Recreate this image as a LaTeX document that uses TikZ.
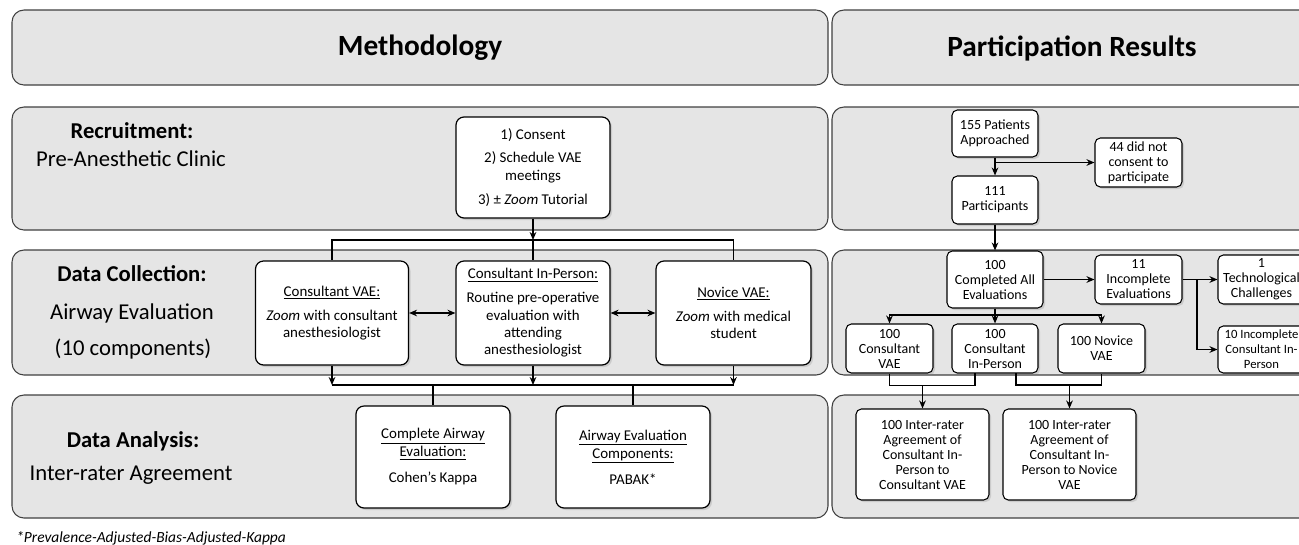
\documentclass[tikz,border=0pt]{standalone}
\usepackage{fontspec}
\setmainfont{Carlito}
\usetikzlibrary{arrows.meta,shadows,fit}
\begin{document}
\begin{tikzpicture}[x=0.75pt,y=-0.75pt,
  panel/.style={draw=black!75, fill=black!10, rounded corners=9pt, line width=0.8pt, inner sep=0pt},
  lbox/.style={draw=black, fill=white, rounded corners=6pt, line width=0.9pt, align=center, inner sep=2pt,
    drop shadow={shadow xshift=1.5pt, shadow yshift=-1.5pt, opacity=0.25},
    font=\fontsize{11.2}{13}\selectfont},
  rbox/.style={draw=black, fill=white, rounded corners=4pt, line width=0.8pt, align=center, inner sep=1pt,
    drop shadow={shadow xshift=1.5pt, shadow yshift=-1.5pt, opacity=0.25},
    font=\fontsize{10.5}{11.25}\selectfont},
  head/.style={font=\fontsize{22}{26}\selectfont\bfseries},
  lab/.style={font=\fontsize{17}{20}\selectfont\bfseries},
  sub/.style={font=\fontsize{17}{20}\selectfont},
  con/.style={line width=0.9pt, draw=black},
  arr/.style={con, -{Stealth[length=6pt,width=5pt]}},
  darr/.style={con, {Stealth[length=6pt,width=5pt]}-{Stealth[length=6pt,width=5pt]}}
]
\clip (0,0) rectangle (1299,544);

% ---------- panels ----------
\node[panel, fit={(12,10)(828,85)}] (hL) {};
\node[panel, fit={(832,10)(1312,85)}] (hR) {};
\node[panel, fit={(12,107)(828,230)}] (r1L) {};
\node[panel, fit={(832,107)(1312,230)}] (r1R) {};
\node[panel, fit={(12,250)(828,375)}] (r2L) {};
\node[panel, fit={(832,250)(1312,375)}] (r2R) {};
\node[panel, fit={(12,395)(828,518)}] (r3L) {};
\node[panel, fit={(832,395)(1312,518)}] (r3R) {};

\node[head] (tM) at (420,48) {Methodology};
\node[head] (tP) at (1072,48) {Participation Results};

% ---------- left labels ----------
\node[lab] (lRec) at (132,131) {Recruitment:};
\node[sub] (lPre) at (131,159) {Pre-Anesthetic Clinic};
\node[lab] (lDC) at (132,274) {Data Collection:};
\node[sub] (lAE) at (132,313) {Airway Evaluation};
\node[sub] (lTen) at (133,349) {(10 components)};
\node[lab] (lDA) at (133,441) {Data Analysis:};
\node[sub] (lIRA) at (131,475) {Inter-rater Agreement};

% ---------- left boxes ----------
\node[lbox, minimum width=154*0.75pt, minimum height=101*0.75pt, font=\fontsize{11.2}{13.5}\selectfont] (cons) at (533,167.5)
  {1) Consent\\[4pt]2) Schedule VAE\\meetings\\[4pt]3) ± \textit{Zoom} Tutorial};
\node[lbox, minimum width=153*0.75pt, minimum height=104*0.75pt] (cvae) at (332,313)
  {\underline{Consultant VAE:}\\[5pt]\textit{Zoom} with consultant\\anesthesiologist};
\node[lbox, minimum width=154*0.75pt, minimum height=104*0.75pt] (cip) at (533,313)
  {\underline{Consultant In-Person:}\\[5pt]Routine pre-operative\\evaluation with\\attending\\anesthesiologist};
\node[lbox, minimum width=155*0.75pt, minimum height=104*0.75pt] (nvae) at (733.5,313)
  {\underline{Novice VAE:}\\[5pt]\textit{Zoom} with medical\\student};
\node[lbox, minimum width=154*0.75pt, minimum height=102*0.75pt, font=\fontsize{11.2}{13.5}\selectfont] (cae) at (433,457)
  {\underline{Complete Airway}\\\underline{Evaluation:}\\[6pt]Cohen’s Kappa};
\node[lbox, minimum width=154*0.75pt, minimum height=102*0.75pt, font=\fontsize{11.2}{13.5}\selectfont] (aec) at (633,457)
  {\underline{Airway Evaluation}\\\underline{Components:}\\[6pt]PABAK*};

% ---------- left connectors ----------
\coordinate (t1) at (533,240);
\draw[arr] (cons.south) -- (t1);
\draw[con] (t1) -| (cvae.north);
\draw[con] (t1) -| (nvae.north);
\draw[con] (t1) -- (cip.north);
\draw[darr] (cvae.east) -- (cip.west);
\draw[darr] (cip.east) -- (nvae.west);
\coordinate (t2) at (533,385);
\draw[arr] (cvae.south) -- (cvae.south |- t2);
\draw[arr] (cip.south) -- (t2);
\draw[arr] (nvae.south) -- (nvae.south |- t2);
\draw[con] (cvae.south |- t2) -- (nvae.south |- t2);
\draw[con] (cae.north |- t2) -- (cae.north);
\draw[con] (aec.north |- t2) -- (aec.north);

% ---------- right boxes ----------
\node[rbox, minimum width=86*0.75pt, minimum height=47*0.75pt] (p155) at (995,133.5) {155 Patients\\Approached};
\node[rbox, minimum width=87*0.75pt, minimum height=49*0.75pt] (p44) at (1138.5,162.5) {44 did not\\consent to\\participate};
\node[rbox, minimum width=86*0.75pt, minimum height=48*0.75pt] (p111) at (995,200) {111\\Participants};
\node[rbox, minimum width=96*0.75pt, minimum height=57*0.75pt] (p100) at (995,279.5) {100\\Completed All\\Evaluations};
\node[rbox, minimum width=87*0.75pt, minimum height=49*0.75pt] (p11) at (1138.5,279.5) {11\\Incomplete\\Evaluations};
\node[rbox, minimum width=87*0.75pt, minimum height=49*0.75pt] (p1) at (1261.5,279.5) {1\\Technological\\Challenges};
\node[rbox, minimum width=87*0.75pt, minimum height=47*0.75pt, font=\fontsize{9.5}{11.25}\selectfont] (p10) at (1261.5,349.5) {10 Incomplete\\Consultant In-\\Person};
\node[rbox, minimum width=87*0.75pt, minimum height=49*0.75pt] (qcv) at (889.5,348.5) {100\\Consultant\\VAE};
\node[rbox, minimum width=86*0.75pt, minimum height=49*0.75pt] (qci) at (995,348.5) {100\\Consultant\\In-Person};
\node[rbox, minimum width=87*0.75pt, minimum height=49*0.75pt] (qnv) at (1101.5,348.5) {100 Novice\\VAE};
\node[rbox, minimum width=133*0.75pt, minimum height=91*0.75pt] (ia1) at (922.5,454.5) {100 Inter-rater\\Agreement of\\Consultant In-\\Person to\\Consultant VAE};
\node[rbox, minimum width=133*0.75pt, minimum height=91*0.75pt] (ia2) at (1069.5,454.5) {100 Inter-rater\\Agreement of\\Consultant In-\\Person to Novice\\VAE};

% ---------- right connectors ----------
\draw[arr] (p155.south) -- (p111.north);
\draw[arr] (p155.south |- p44.west) -- (p44.west);
\draw[arr] (p111.south) -- (p100.north);
\draw[arr] (p100.east) -- (p11.west);
\draw[arr] (p11.east) -- (p1.west);
\coordinate (b1) at (1197,279.5);
\draw[arr] (b1) |- (p10.west);
\coordinate (j1) at (995,315);
\draw[con] (p100.south) -- (j1);
\draw[arr] (j1) -| (qcv.north);
\draw[arr] (j1) -| (qnv.north);
\draw[arr] (j1) -- (qci.north);
\coordinate (ca) at (975,373);
\coordinate (cb) at (1016,373);
\draw[con] (qcv.south) -- ++(0,12) -| (ca);
\draw[con] (cb) -- ++(0,12) -| (qnv.south);
\coordinate (m1) at (922.5,385);
\coordinate (m2) at (1069.5,385);
\draw[arr] (m1) -- (ia1.north);
\draw[arr] (m2) -- (ia2.north);

% ---------- footnote ----------
\node[anchor=west, font=\fontsize{11.6}{13}\selectfont\itshape, inner sep=0pt] (fn) at (16,538) {*Prevalence-Adjusted-Bias-Adjusted-Kappa};
\end{tikzpicture}
\end{document}
